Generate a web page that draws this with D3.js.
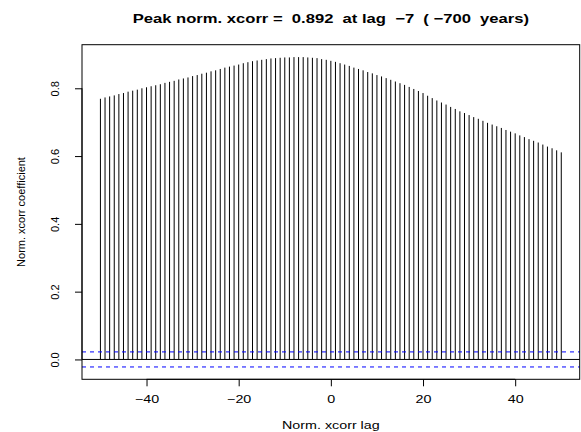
<!DOCTYPE html>
<html>
<head>
<meta charset="utf-8">
<script src="https://cdn.jsdelivr.net/npm/d3@7"></script>
<style>
html,body{margin:0;padding:0;background:#fff;}
svg{display:block;}
text{font-family:"Liberation Sans",Arial,Helvetica,sans-serif;fill:#000;}
</style>
</head>
<body>
<svg id="chart" width="581" height="432"></svg>
<script>
const titleText = "Peak norm. xcorr =  0.892  at lag  \u22127  ( \u2212700  years)";
const xLabel = "Norm. xcorr lag";
const yLabel = "Norm. xcorr coefficient";
const lags = [-50,-49,-48,-47,-46,-45,-44,-43,-42,-41,-40,-39,-38,-37,-36,-35,-34,-33,-32,-31,-30,-29,-28,-27,-26,-25,-24,-23,-22,-21,-20,-19,-18,-17,-16,-15,-14,-13,-12,-11,-10,-9,-8,-7,-6,-5,-4,-3,-2,-1,0,1,2,3,4,5,6,7,8,9,10,11,12,13,14,15,16,17,18,19,20,21,22,23,24,25,26,27,28,29,30,31,32,33,34,35,36,37,38,39,40,41,42,43,44,45,46,47,48,49,50];
const xcorr = [0.769,0.773,0.776,0.779,0.783,0.786,0.790,0.793,0.796,0.800,
0.803,0.806,0.809,0.812,0.816,0.819,0.822,0.826,0.829,0.832,
0.836,0.839,0.843,0.846,0.850,0.853,0.857,0.861,0.864,0.867,
0.870,0.874,0.877,0.880,0.882,0.884,0.886,0.888,0.889,0.890,
0.891,0.891,0.892,0.892,0.892,0.891,0.890,0.889,0.886,0.884,
0.881,0.878,0.874,0.870,0.866,0.861,0.857,0.853,0.848,0.844,
0.839,0.835,0.830,0.825,0.820,0.815,0.810,0.804,0.798,0.792,
0.786,0.778,0.771,0.764,0.758,0.752,0.745,0.739,0.732,0.727,
0.721,0.715,0.710,0.704,0.698,0.693,0.688,0.683,0.677,0.672,
0.667,0.661,0.656,0.650,0.645,0.640,0.634,0.628,0.623,0.617,0.611];
const ciBound = [0.0222, -0.0222];
const xTicks = [-40,-20,0,20,40];
const yTicks = [0.0,0.2,0.4,0.6,0.8];

const svg = d3.select("#chart");
const L = 82, R = 579.7, T = 44.7, B = 379.3;
const x = d3.scaleLinear().domain([-54, 54]).range([L, R]);
const y = d3.scaleLinear().domain([-0.0586, 0.9286]).range([B, T]);
const SX = 1.3;

// bars
svg.append("g").selectAll("line").data(lags).join("line")
  .attr("x1", (d) => x(d)).attr("x2", (d) => x(d))
  .attr("y1", y(0)).attr("y2", (d, i) => y(xcorr[i]))
  .attr("stroke", "#000").attr("stroke-width", 1);

// zero line
svg.append("line").attr("x1", L).attr("x2", R).attr("y1", y(0)).attr("y2", y(0))
  .attr("stroke", "#000").attr("stroke-width", 1);

// confidence lines
svg.append("g").selectAll("line").data(ciBound).join("line")
  .attr("x1", L).attr("x2", R).attr("y1", (d) => y(d)).attr("y2", (d) => y(d))
  .attr("stroke", "#0000ff").attr("stroke-width", 1).attr("stroke-dasharray", "4,4");

// box
svg.append("rect").attr("x", L).attr("y", T).attr("width", R - L).attr("height", B - T)
  .attr("fill", "none").attr("stroke", "#000").attr("stroke-width", 1);

// x axis
const xAxis = d3.axisBottom(x).tickValues(xTicks).tickSize(7).tickFormat(() => "");
const gx = svg.append("g").attr("transform", `translate(0,${B})`).call(xAxis);
gx.select(".domain").attr("d", `M${x(-40)},0H${x(40)}`);
gx.selectAll(".tick").append("text")
  .attr("transform", `translate(0,24) scale(${SX},1)`)
  .attr("text-anchor", "middle").attr("font-size", 11)
  .text((d) => d < 0 ? "\u2212" + Math.abs(d) : String(d));

// y axis
const yAxis = d3.axisLeft(y).tickValues(yTicks).tickSize(7).tickFormat(() => "");
const gy = svg.append("g").attr("transform", `translate(${L},0)`).call(yAxis);
gy.select(".domain").attr("d", `M0,${y(0)}V${y(0.8)}`);
gy.selectAll(".tick").append("text")
  .attr("transform", `translate(-23,0) rotate(-90)`)
  .attr("text-anchor", "middle").attr("font-size", 11)
  .text((d) => d3.format(".1f")(d));
svg.selectAll(".tick text").attr("fill", "#000").style("font-family", "'Liberation Sans',Arial,sans-serif");

// labels
svg.append("text").attr("transform", `translate(${(L + R) / 2},23) scale(1.33,1)`)
  .attr("text-anchor", "middle").attr("font-size", 12.5).attr("font-weight", "bold")
  .style("white-space", "pre").attr("xml:space", "preserve").text(titleText);
svg.append("text").attr("transform", `translate(${(L + R) / 2},429) scale(${SX},1)`)
  .attr("text-anchor", "middle").attr("font-size", 11).text(xLabel);
svg.append("text").attr("transform", `translate(25,${(T + B) / 2}) rotate(-90)`)
  .attr("text-anchor", "middle").attr("font-size", 11).text(yLabel);
</script>
</body>
</html>
